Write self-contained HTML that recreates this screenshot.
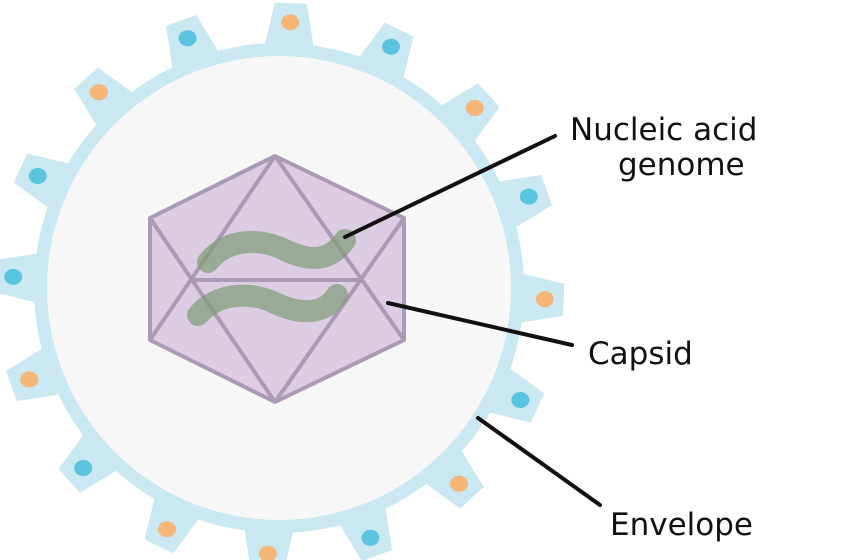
<!DOCTYPE html>
<html><head><style>body{margin:0;background:#fff}svg{display:block}</style></head><body>
<svg width="849" height="560" viewBox="0 0 849 560" xmlns="http://www.w3.org/2000/svg">
<g id="spikes"></g>
<circle cx="279" cy="288" r="245" fill="#c9e8f1"/>
<circle cx="279" cy="288" r="232" fill="#f7f7f7"/>
<g id="blobs"></g>
<polygon points="275,156 404,218 404,340 275,402 150,340 150,218" fill="#dccde2" stroke="#ab9ab5" stroke-width="4" stroke-linejoin="round"/>
<g stroke="#ab9ab5" stroke-width="4" fill="none">
<line x1="275" y1="156" x2="150" y2="340"/><line x1="275" y1="156" x2="404" y2="340"/>
<line x1="275" y1="402" x2="150" y2="218"/><line x1="275" y1="402" x2="404" y2="218"/>
<line x1="191" y1="280" x2="360" y2="280"/>
</g>
<g stroke="#7f9c78" stroke-opacity="0.72" stroke-width="22" stroke-linecap="round" fill="none">
<path d="M208,262 C230,235 265,240 285,250 C310,262 330,262 345,240"/>
<path d="M198,315 C220,290 255,293 275,303 C300,315 325,315 337,295"/>
</g>
<g stroke="#111" stroke-width="4" stroke-linecap="round">
<line x1="345" y1="237" x2="555" y2="136"/>
<line x1="388" y1="303" x2="572" y2="345"/>
<line x1="478" y1="418" x2="600" y2="505"/>
</g>
<g font-family="'Comic Sans MS','DejaVu Sans',sans-serif" font-size="31" fill="#111">
<text x="570" y="140">Nucleic acid</text>
<text x="618" y="175">genome</text>
<text x="588" y="364">Capsid</text>
<text x="610" y="535">Envelope</text>
</g>
</svg>
<script>
(function(){
var ns="http://www.w3.org/2000/svg",g=document.getElementById('spikes'),bg=document.getElementById('blobs');
var cols=["o","b","o","b","o","b","o","b","o","o","b","o","b","b","o","b"];
var cx=279,cy=288;
for(var i=0;i<16;i++){
 var a=(2.4+22.5*i)*Math.PI/180;
 var ux=Math.sin(a),uy=-Math.cos(a),px=Math.cos(a),py=Math.sin(a);
 function P(r,w){return (cx+ux*r+px*w).toFixed(1)+","+(cy+uy*r+py*w).toFixed(1);}
 var poly=document.createElementNS(ns,'polygon');
 poly.setAttribute('points',[P(235,-26),P(285,-16),P(285,16),P(235,26)].join(' '));
 poly.setAttribute('fill','#c9e8f1');
 g.appendChild(poly);
 var bx=cx+ux*266,by=cy+uy*266;
 var e=document.createElementNS(ns,'ellipse');
 e.setAttribute('cx',bx);e.setAttribute('cy',by);
 e.setAttribute('rx',9);e.setAttribute('ry',8);
 e.setAttribute('fill',cols[i]=="o"?'#f6b677':'#5bc4df');
 bg.appendChild(e);
}
})();
</script>
</body></html>
